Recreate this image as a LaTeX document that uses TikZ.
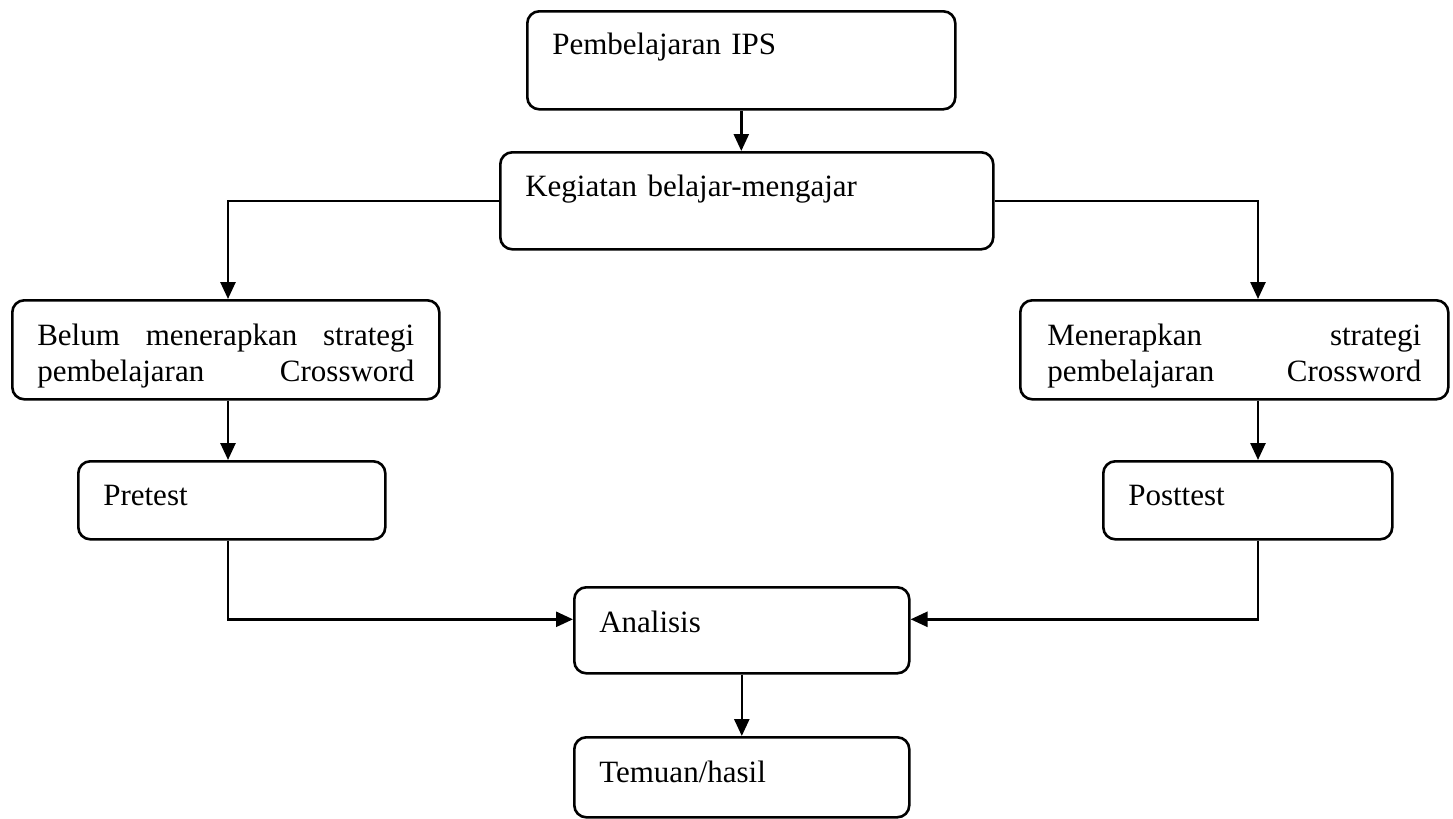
\documentclass[tikz,border=0pt]{standalone}
\usepackage{fontspec}
\setmainfont{Liberation Serif}
\usetikzlibrary{arrows.meta}
\begin{document}
\begin{tikzpicture}[x=0.5pt, y=-0.5pt, line width=1.3pt, kotak/.style={draw, rounded corners=6pt, anchor=north west, align=left, inner xsep=12.5pt, inner ysep=0pt, font=\fontsize{15.5}{18}\selectfont}, panah/.style={-{Triangle[length=8.5pt,width=7.5pt]}}]
	\useasboundingbox (0,0) rectangle (1453,819);
	\coordinate (kiri) at (228,0);
	\coordinate (kanan) at (1258,0);
	\node[kotak, text width=189pt, text height=21.5pt, text depth=27.5pt] (ips) at (526,10) {Pembelajaran IPS};
	\node[kotak, text width=221.5pt, text height=22pt, text depth=26.5pt] (kbm) at (499,151) {Kegiatan belajar-mengajar};
	\node[kotak, text width=188.5pt, text height=22.5pt, text depth=27pt] (belum) at (11,299) {Belum\hfill menerapkan\hfill strategi\\pembelajaran\hfill Crossword};
	\node[kotak, inner xsep=13.5pt, text width=187pt, text height=22.5pt, text depth=27pt] (terap) at (1019,299) {Menerapkan\hfill strategi\\pembelajaran\hfill Crossword};
	\node[kotak, text width=128.5pt, text height=22pt, text depth=17pt] (pre) at (77,460) {Pretest};
	\node[kotak, text width=119.5pt, text height=22pt, text depth=17pt] (post) at (1102,460) {Posttest};
	\node[kotak, text width=142.5pt, text height=22.5pt, text depth=20.5pt] (analisis) at (573,586) {Analisis};
	\node[kotak, text width=142.5pt, text height=22.5pt, text depth=17.5pt] (temuan) at (573,736) {Temuan/hasil};
	\draw[panah] (ips) -- (ips |- kbm.north);
	\draw[panah] (kbm.west) -| (kiri |- belum.north);
	\draw[panah] (kbm.east) -| (kanan |- terap.north);
	\draw[panah] (kiri |- belum.south) -- (kiri |- pre.north);
	\draw[panah] (kanan |- terap.south) -- (kanan |- post.north);
	\draw[panah] (kiri |- pre.south) |- ([yshift=5.5pt]analisis.west);
	\draw[panah] (kanan |- post.south) |- ([yshift=5.5pt]analisis.east);
	\draw[panah] (analisis) -- (temuan);
\end{tikzpicture}
\end{document}
